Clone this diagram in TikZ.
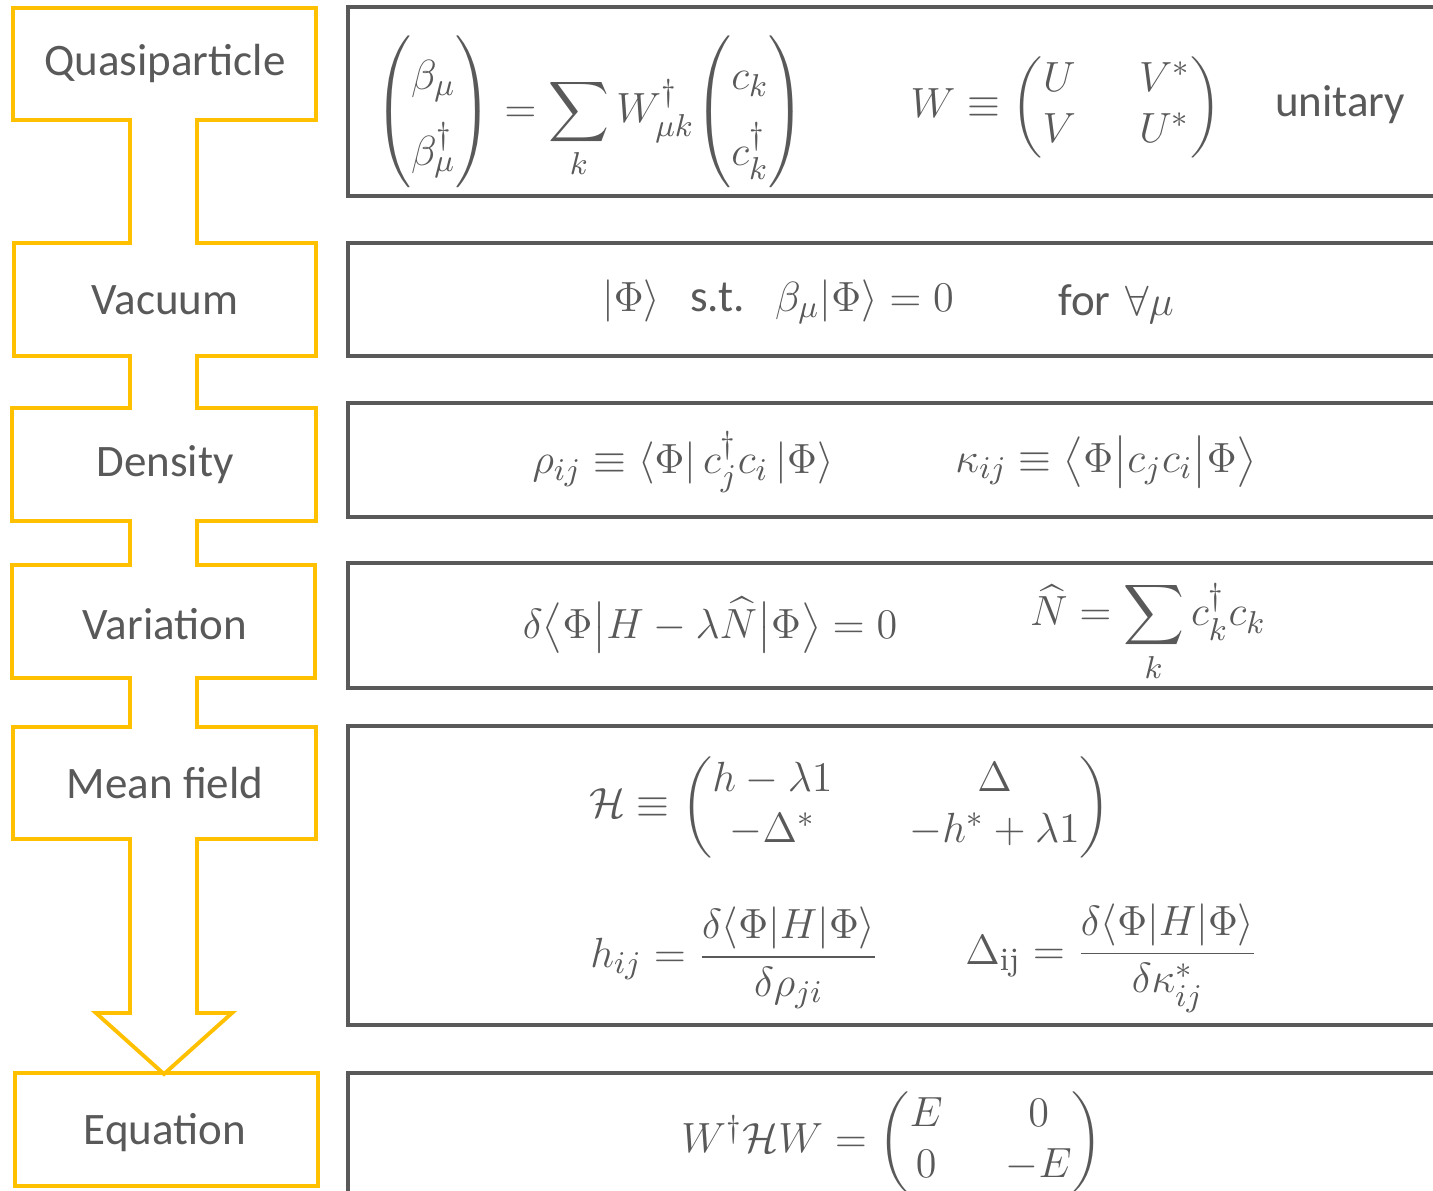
\documentclass[tikz,border=0pt]{standalone}
\usepackage{amsmath}
\usepackage{fontspec}
\newfontfamily\labelfont{Carlito}
\usetikzlibrary{positioning}
\definecolor{gold}{RGB}{255,192,0}
\definecolor{ink}{RGB}{89,89,89}
\renewcommand{\arraystretch}{0.9}

\begin{document}
\begin{tikzpicture}[x=0.01cm, y=-0.01cm, line join=miter,
    lbl/.style={text=ink, font=\labelfont\fontsize{12.8}{16}\selectfont},
    eq/.style={text=ink, font=\fontsize{13.2}{16}\selectfont, inner sep=0pt},
    eqbox/.style={draw=ink, line width=1.1pt}]
    \useasboundingbox (0,0) rectangle (1433,1191);

    % Steps
    \draw[gold, line width=1.1pt] (13,8) -- (316,8) -- (316,120) -- (197,120) -- (197,243)
        -- (316,243) -- (316,356) -- (197,356) -- (197,408) -- (316,408) -- (316,521)
        -- (197,521) -- (197,565) -- (315,565) -- (315,678) -- (197,678) -- (197,727)
        -- (316,727) -- (316,839) -- (197,839) -- (197,1013) -- (232,1013) -- (164,1074)
        -- (96,1013) -- (130,1013) -- (130,839) -- (13,839) -- (13,727) -- (130,727)
        -- (130,678) -- (12,678) -- (12,565) -- (130,565) -- (130,521) -- (12,521)
        -- (12,408) -- (130,408) -- (130,356) -- (14,356) -- (14,243) -- (130,243)
        -- (130,120) -- (13,120) -- cycle;
    \draw[gold, line width=1.1pt] (15,1073) rectangle (318,1186);
    \foreach \n/\y/\t in {qp/64/Quasiparticle, vac/300/Vacuum, dens/465/Density,
                          var/624/Variation, mf/783/Mean field, eqn/1133/Equation} {
        \node[lbl] (step-\n) at (165,\y) {\t};
    }

    % Formulas
    \foreach \t/\b in {7/196, 243/356, 403/517, 563/688, 726/1025, 1073/1220} {
        \draw[eqbox] (348,\t) rectangle (1460,\b);
    }
    \node[eq] (qp-def) at (590,112) {\renewcommand{\arraystretch}{1.35}$\displaystyle\begin{pmatrix}\beta_\mu\\ \beta_\mu^\dagger\end{pmatrix}
        = \sum_k W^\dagger_{\mu k}\!\begin{pmatrix}c_k\\ c_k^\dagger\end{pmatrix}$};
    \node[eq] (qp-w) at (1066,107) {$W \equiv \begin{pmatrix}U & \hspace{0.6em} V^*\\ V & \hspace{0.6em} U^*\end{pmatrix}$};
    \node[lbl] (qp-unit) at (1340,105) {unitary};

    \node[eq] (vac-def) at (778,302) {$|\Phi\rangle$\ \ {\labelfont\fontsize{12.8}{16}\selectfont s.t.}\ \ $\beta_\mu|\Phi\rangle = 0$};
    \node[eq] (vac-all) at (1116,304) {{\labelfont\fontsize{12.8}{16}\selectfont for} $\forall\mu$};

    \node[eq] (dens-rho) at (683,462) {$\rho_{ij} \equiv \langle\Phi|\, c_j^\dagger c_i \,|\Phi\rangle$};
    \node[eq] (dens-kap) at (1106,462) {$\kappa_{ij} \equiv \bigl\langle\Phi\big|c_jc_i\big|\Phi\bigr\rangle$};

    \node[eq] (var-def) at (710,625) {$\delta\bigl\langle\Phi\big|H-\lambda\widehat{N}\big|\Phi\bigr\rangle = 0$};
    \node[eq] (var-num) at (1148,632) {$\displaystyle\widehat{N} = \sum_k c_k^\dagger c_k$};

    \node[eq] (mf-ham) at (850,807) {$\mathcal{H} \equiv \begin{pmatrix} h-\lambda 1 & \hspace{0.9em}\Delta\\
        -\Delta^* & \hspace{0.9em}-h^*+\lambda 1\end{pmatrix}$};
    \node[eq] (mf-h) at (735,958) {$\displaystyle h_{ij} = \frac{\delta\langle\Phi|H|\Phi\rangle}{\delta\rho_{ji}}$};
    \node[eq] (mf-d) at (1112,958) {$\displaystyle \Delta_{\mathrm{ij}} = \frac{\delta\langle\Phi|H|\Phi\rangle}{\delta\kappa^*_{ij}}$};

    \node[eq] (eqn-def) at (892,1142) {$W^\dagger\mathcal{H}W = \begin{pmatrix}E & \hspace{0.6em}0\\ 0 & \hspace{0.6em}-E\end{pmatrix}$};
\end{tikzpicture}
\end{document}
